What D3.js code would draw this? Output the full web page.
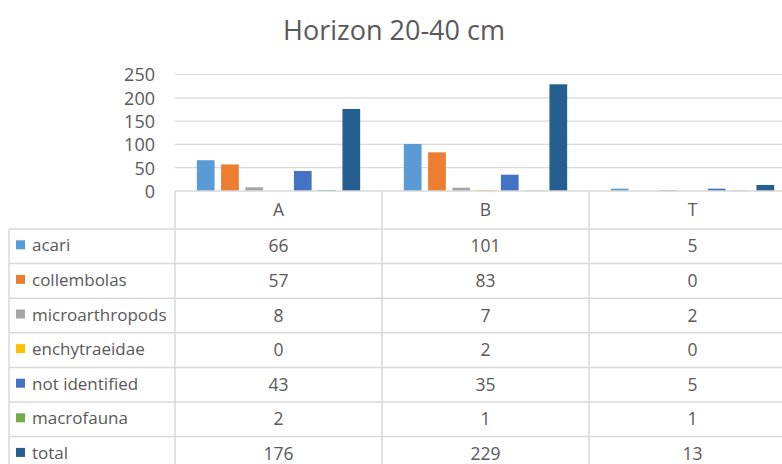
<!DOCTYPE html>
<html>
<head>
<meta charset="utf-8">
<script src="https://cdn.jsdelivr.net/npm/d3@7"></script>
<style>
  body { margin: 0; background: #fff; }
  text { font-family: "Open Sans", sans-serif; fill: #595959; }
</style>
</head>
<body>
<div class="chart"></div>
<script>
var categories = ['A', 'B', 'T'];
var seriesNames = ['acari', 'collembolas', 'microarthropods', 'enchytraeidae', 'not identified', 'macrofauna', 'total'];
var seriesColors = ['#5B9BD5', '#ED7D31', '#A5A5A5', '#FFC000', '#4472C4', '#70AD47', '#255E91'];
var acari = [66, 101, 5];
var collembolas = [57, 83, 0];
var microarthropods = [8, 7, 2];
var enchytraeidae = [0, 2, 0];
var notIdentified = [43, 35, 5];
var macrofauna = [2, 1, 1];
var total = [176, 229, 13];
var yTicks = [0, 50, 100, 150, 200, 250];

var values = [acari, collembolas, microarthropods, enchytraeidae, notIdentified, macrofauna, total];

var W = 782, H = 464;
var plotLeft = 175, plotRight = 796;
var tableLeft = 9, rowH = 34.6, headerBottom = 229;

var svg = d3.select('.chart')
  .append('svg')
	.attr('width', W)
	.attr('height', H);

svg.append('text')
	.attr('x', 394).attr('y', 40)
	.attr('text-anchor', 'middle')
	.style('font-size', '27px')
	.text('Horizon 20-40 cm');

var x = d3.scaleBand().domain(categories).range([plotLeft, plotRight]);
var xs = d3.scaleBand().domain(seriesNames).range([0, x.bandwidth()])
	.paddingInner(0.27).paddingOuter(0.9);
var y = d3.scaleLinear().domain([0, 250]).range([191, 74.5]);

// gridlines
svg.append('g')
	.selectAll('line')
	.data(yTicks.slice(1))
	.enter().append('line')
	.attr('x1', plotLeft).attr('x2', W)
	.attr('y1', d => y(d)).attr('y2', d => y(d))
	.attr('stroke', '#d9d9d9').attr('stroke-width', 1.2);

var yAxis = svg.append('g')
	.attr('transform', `translate(${plotLeft - 20}, 0)`)
	.call(d3.axisLeft(y).tickValues(yTicks).tickSize(0).tickPadding(0));
yAxis.select('.domain').remove();
yAxis.selectAll('text').style('font-size', '18px').style('font-family', '"Open Sans", sans-serif')
	.attr('fill', '#595959').attr('dy', '0.35em');

// bars
seriesNames.forEach(function(name, i) {
	svg.append('g')
		.selectAll('rect')
		.data(values[i])
		.enter().append('rect')
		.attr('x', (d, j) => x(categories[j]) + xs(name))
		.attr('y', d => y(d))
		.attr('width', xs.bandwidth())
		.attr('height', d => y(0) - y(d))
		.attr('fill', seriesColors[i]);
});

// table lines
var lineColor = '#d9d9d9';
var tg = svg.append('g').attr('stroke', lineColor).attr('stroke-width', 1.5);
tg.append('line').attr('x1', plotLeft).attr('x2', W).attr('y1', y(0)).attr('y2', y(0));
for (var r = 0; r <= seriesNames.length; r++) {
	var yy = headerBottom + r * rowH;
	tg.append('line').attr('x1', tableLeft).attr('x2', W).attr('y1', yy).attr('y2', yy);
}
tg.append('line').attr('x1', tableLeft).attr('x2', tableLeft).attr('y1', headerBottom).attr('y2', H);
categories.forEach(function(c) {
	tg.append('line').attr('x1', x(c)).attr('x2', x(c)).attr('y1', y(0)).attr('y2', H);
});

// header labels
svg.append('g')
	.selectAll('text')
	.data(categories)
	.enter().append('text')
	.attr('x', d => x(d) + x.bandwidth() / 2)
	.attr('y', (y(0) + headerBottom) / 2)
	.attr('dy', '0.35em')
	.attr('text-anchor', 'middle')
	.style('font-size', '17.5px')
	.text(d => d);

// rows
seriesNames.forEach(function(name, i) {
	var cy = headerBottom + i * rowH + rowH / 2;
	var row = svg.append('g');
	row.append('rect')
		.attr('x', 16).attr('y', cy - 6)
		.attr('width', 9).attr('height', 9)
		.attr('fill', seriesColors[i]);
	row.append('text')
		.attr('x', 32).attr('y', cy)
		.attr('dy', '0.3em')
		.style('font-size', '17px')
		.text(name);
	row.selectAll('text.v')
		.data(values[i])
		.enter().append('text')
		.attr('class', 'v')
		.attr('x', (d, j) => x(categories[j]) + x.bandwidth() / 2)
		.attr('y', cy)
		.attr('dy', '0.35em')
		.attr('text-anchor', 'middle')
		.style('font-size', '17.5px')
		.text(d => d);
});
</script>
</body>
</html>
